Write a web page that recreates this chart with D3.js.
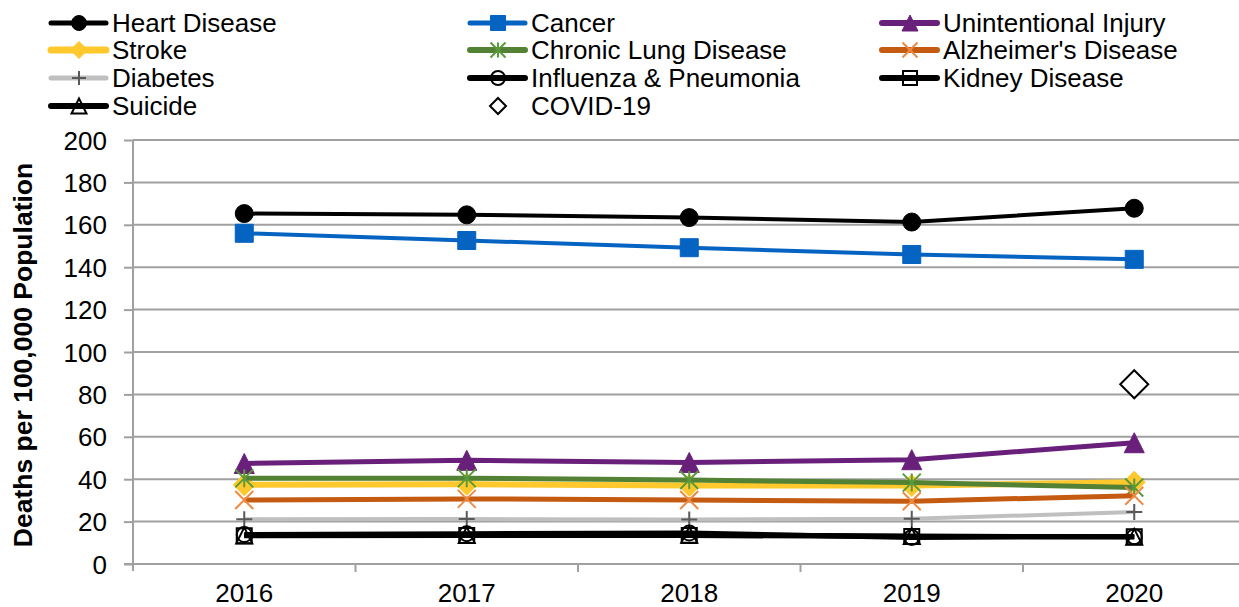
<!DOCTYPE html>
<html><head><meta charset="utf-8">
<script src="https://cdn.jsdelivr.net/npm/d3@7"></script>
<style>
html,body{margin:0;padding:0;background:#fff;}
svg{display:block;font-family:"Liberation Sans",Arial,sans-serif;}
</style></head>
<body><svg id="chart" width="1239" height="607"></svg>
<script>
const years = [2016, 2017, 2018, 2019, 2020];
const yTicks = [0, 20, 40, 60, 80, 100, 120, 140, 160, 180, 200];
const heartDisease = [165.3, 164.7, 163.4, 161.3, 167.8];
const cancer = [156.0, 152.6, 149.2, 146.0, 143.7];
const unintentionalInjury = [47.4, 48.9, 47.9, 49.2, 57.2];
const stroke = [37.4, 37.6, 37.0, 37.0, 38.6];
const chronicLungDisease = [40.4, 40.5, 39.6, 38.4, 36.1];
const alzheimersDisease = [30.2, 30.7, 30.2, 29.6, 32.2];
const diabetes = [21.1, 21.2, 21.0, 21.3, 24.5];
const influenzaPneumonia = [13.9, 14.3, 14.6, 12.5, 12.9];
const kidneyDisease = [13.3, 13.5, 13.4, 13.0, 12.9];
const suicide = [13.5, 13.7, 13.8, 13.2, 12.8];
const covid19 = [null, null, null, null, 84.8];
const yTitle = "Deaths per 100,000 Population";

const series = [
  {name:"Heart Disease", values:heartDisease, line:"#000000", lw:4, marker:"circle", mfill:"#000", mstroke:"#000", size:18, lsize:15},
  {name:"Cancer", values:cancer, line:"#0563C1", lw:4, marker:"square", mfill:"#0563C1", mstroke:"#0563C1", size:18, lsize:15},
  {name:"Unintentional Injury", values:unintentionalInjury, line:"#69207A", lw:5, marker:"triangle", mfill:"#69207A", mstroke:"#69207A", size:20, lsize:16},
  {name:"Stroke", values:stroke, line:"#FFC82C", lw:6, marker:"diamond", mfill:"#FFC82C", mstroke:"#FFC82C", size:22, lsize:17},
  {name:"Chronic Lung Disease", values:chronicLungDisease, line:"#548235", lw:5, marker:"star", mfill:"none", mstroke:"#5B9A3A", size:18, lsize:15},
  {name:"Alzheimer's Disease", values:alzheimersDisease, line:"#C55A11", lw:5, marker:"x", mfill:"none", mstroke:"#ED8B45", size:18, lsize:15},
  {name:"Diabetes", values:diabetes, line:"#BFBFBF", lw:4, marker:"plus", mfill:"none", mstroke:"#595959", size:16, lsize:14},
  {name:"Influenza & Pneumonia", values:influenzaPneumonia, line:"#000000", lw:5, marker:"circle", mfill:"none", mstroke:"#000", size:15, lsize:14, open:true},
  {name:"Kidney Disease", values:kidneyDisease, line:"#000000", lw:5, marker:"square", mfill:"none", mstroke:"#000", size:15, lsize:14, open:true},
  {name:"Suicide", values:suicide, line:"#000000", lw:5, marker:"triangle", mfill:"none", mstroke:"#000", size:16, lsize:15, open:true},
  {name:"COVID-19", values:covid19, line:null, lw:0, marker:"diamond", mfill:"#fff", mstroke:"#000", size:28, lsize:16, open:true}
];

const svg = d3.select("#chart");
const pLeft = 133, pRight = 1245.5, pTop = 140, pBottom = 564;
const x = d3.scaleBand().domain(years).range([pLeft, pRight]).paddingInner(0).paddingOuter(0);
const cx = d => x(d) + x.bandwidth() / 2;
const y = d3.scaleLinear().domain([0, 200]).range([pBottom, pTop]);

function markerPath(type, s) {
  const h = s / 2;
  switch (type) {
    case "circle": return d3.symbol(d3.symbolCircle, Math.PI * h * h)();
    case "square": return `M${-h},${-h}H${h}V${h}H${-h}Z`;
    case "triangle": return `M0,${-h}L${h},${h}L${-h},${h}Z`;
    case "diamond": return `M0,${-h}L${h},0L0,${h}L${-h},0Z`;
    case "x": return `M${-h},${-h}L${h},${h}M${h},${-h}L${-h},${h}`;
    case "plus": return `M${-h},0H${h}M0,${-h}V${h}`;
    case "star": return `M${-h},${-h}L${h},${h}M${h},${-h}L${-h},${h}M0,${-h}V${h}`;
  }
}
function drawMarker(g, s, px, py, size) {
  const isLineType = ["x", "plus", "star"].includes(s.marker);
  g.append("path").attr("d", markerPath(s.marker, size))
    .attr("transform", `translate(${px},${py})`)
    .attr("fill", isLineType ? "none" : s.mfill)
    .attr("stroke", s.mstroke)
    .attr("stroke-width", isLineType ? 2 : (s.open ? 2 : 1))
    .attr("stroke-linejoin", "miter");
}

// gridlines
const grid = svg.append("g");
grid.selectAll("line").data(yTicks.filter(t => t > 0)).join("line")
  .attr("x1", pLeft).attr("x2", pRight).attr("y1", d => y(d)).attr("y2", d => y(d))
  .attr("stroke", "#A0A0A0").attr("stroke-width", 2);

// y axis
const yAxis = svg.append("g").attr("transform", `translate(${pLeft},0)`)
  .call(d3.axisLeft(y).tickValues(yTicks).tickSize(9).tickPadding(17).tickFormat(d3.format("d")));
yAxis.select(".domain").attr("stroke", "#A0A0A0").attr("stroke-width", 2).attr("d", `M0,${pTop}V${pBottom + 7}`);
yAxis.selectAll(".tick line").attr("stroke", "#A0A0A0").attr("stroke-width", 2);
yAxis.selectAll(".tick text").attr("font-size", 26).attr("fill", "#000").attr("dy", "0.35em")
  .attr("font-family", '"Liberation Sans",Arial,sans-serif');

// x axis
const xAxis = svg.append("g").attr("transform", `translate(0,${pBottom})`);
xAxis.append("line").attr("x1", pLeft - 9).attr("x2", pRight).attr("y1", 0).attr("y2", 0)
  .attr("stroke", "#A0A0A0").attr("stroke-width", 2);
xAxis.selectAll("line.tk").data(years.slice(1)).join("line").attr("class", "tk")
  .attr("x1", d => x(d)).attr("x2", d => x(d)).attr("y1", 0).attr("y2", 8)
  .attr("stroke", "#A0A0A0").attr("stroke-width", 2);
xAxis.selectAll("text").data(years).join("text")
  .attr("x", d => cx(d)).attr("y", 38).attr("text-anchor", "middle")
  .attr("font-size", 26).attr("fill", "#000").text(d => d);

// y title
svg.append("text").attr("transform", `translate(32,${(pTop + pBottom) / 2 + 3}) rotate(-90)`)
  .attr("text-anchor", "middle").attr("font-size", 26.5).attr("font-weight", "bold").text(yTitle);

// series
const lineGen = d3.line().defined(d => d.v != null).x(d => cx(d.year)).y(d => y(d.v));
series.forEach(s => {
  const pts = years.map((yr, i) => ({year: yr, v: s.values[i]}));
  const g = svg.append("g");
  if (s.line) {
    g.append("path").datum(pts).attr("d", lineGen).attr("fill", "none")
      .attr("stroke", s.line).attr("stroke-width", s.lw).attr("stroke-linejoin", "round");
  }
  pts.filter(p => p.v != null).forEach(p => drawMarker(g, s, cx(p.year), y(p.v), s.size));
});

// legend
const legCols = [51, 470, 882];
const legRows = [23, 50, 78, 106];
const leg = svg.append("g");
series.forEach((s, i) => {
  const col = i % 3, row = Math.floor(i / 3);
  const lx = legCols[col], ly = legRows[row];
  const g = leg.append("g");
  if (s.line) {
    g.append("line").attr("x1", lx).attr("x2", lx + 55).attr("y1", ly).attr("y2", ly)
      .attr("stroke", s.line).attr("stroke-width", s.lw + 1).attr("stroke-linecap", "round");
  }
  drawMarker(g, s, lx + 28, ly, s.lsize);
  g.append("text").attr("x", lx + 61).attr("y", ly).attr("dy", "0.35em")
    .attr("font-size", 26).attr("fill", "#000").text(s.name);
});
</script></body></html>
